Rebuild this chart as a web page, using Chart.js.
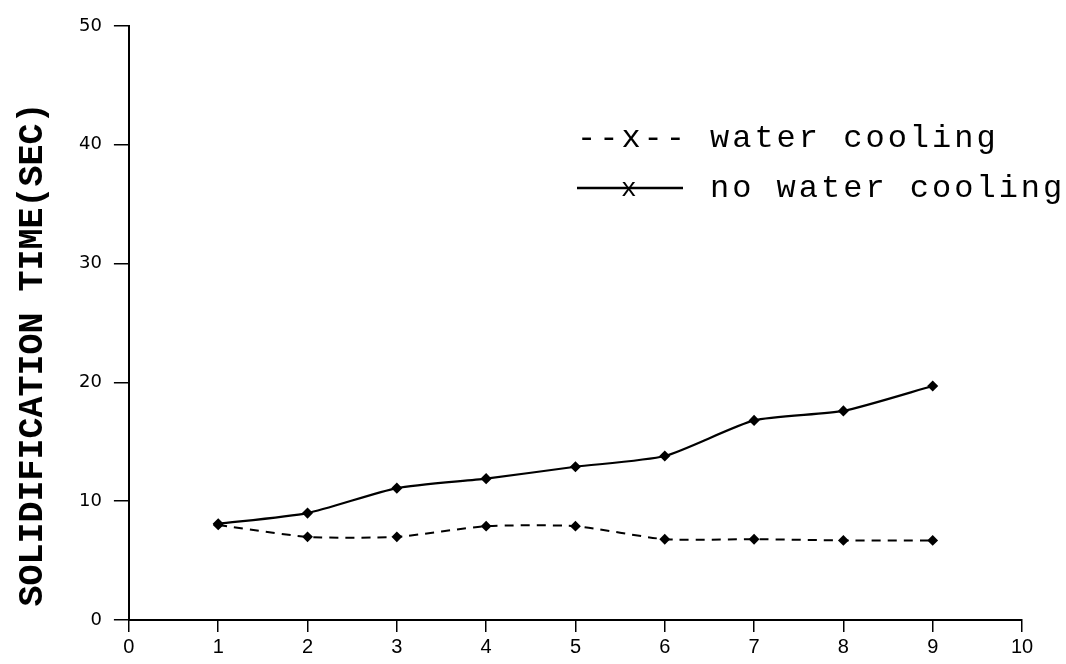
<!DOCTYPE html>
<html>
<head>
<meta charset="utf-8">
<script src="https://cdn.jsdelivr.net/npm/chart.js@4.4.1/dist/chart.umd.min.js"></script>
<style>
  html, body { margin: 0; padding: 0; background: #fff; }
  #wrap { width: 1066px; height: 664px; }
</style>
</head>
<body>
<div id="wrap"><canvas id="chart" width="1066" height="664"></canvas></div>
<script>
// values
const runs = [1, 2, 3, 4, 5, 6, 7, 8, 9];
const waterCooling = [8, 7, 7, 7.9, 7.9, 6.8, 6.8, 6.7, 6.7];
const noWaterCooling = [8.1, 9, 11.1, 11.9, 12.9, 13.8, 16.8, 17.6, 19.7];
const xTicks = [0, 1, 2, 3, 4, 5, 6, 7, 8, 9, 10];
const yTicks = [0, 10, 20, 30, 40, 50];
const seriesLabels = ['water cooling', 'no water cooling'];

const toPoints = vals => runs.map((r, i) => ({ x: r, y: vals[i] }));

// typewriter style legend drawn inside the plot
const typedLegend = {
  id: 'typedLegend',
  afterDraw(chart) {
    const ctx = chart.ctx;
    ctx.save();
    ctx.fillStyle = '#000';
    ctx.strokeStyle = '#000';
    ctx.font = '32px "Liberation Mono"';
    ctx.letterSpacing = '3px';
    ctx.textBaseline = 'alphabetic';
    const x0 = 577, y1 = 147, y2 = 197;
    ctx.fillText('--x--', x0, y1);
    ctx.fillText(chart.data.datasets[0].label, 710, y1);
    ctx.lineWidth = 2.5;
    ctx.beginPath();
    ctx.moveTo(x0, y2 - 9);
    ctx.lineTo(x0 + 106, y2 - 9);
    ctx.stroke();
    ctx.font = '26px "Liberation Mono"';
    ctx.fillText('x', 621, y2 - 1);
    ctx.font = '32px "Liberation Mono"';
    ctx.fillText(chart.data.datasets[1].label, 710, y2);
    ctx.restore();
  }
};

new Chart(document.getElementById('chart'), {
  type: 'line',
  data: {
    datasets: [
      {
        label: seriesLabels[0],
        data: toPoints(waterCooling),
        borderColor: '#000',
        backgroundColor: '#000',
        borderWidth: 2,
        borderDash: [9, 7],
        tension: 0.2,
        pointStyle: 'rectRot',
        pointRadius: 4
      },
      {
        label: seriesLabels[1],
        data: toPoints(noWaterCooling),
        borderColor: '#000',
        backgroundColor: '#000',
        borderWidth: 2.2,
        tension: 0.2,
        pointStyle: 'rectRot',
        pointRadius: 4
      }
    ]
  },
  options: {
    responsive: false,
    animation: false,
    layout: { padding: { left: 10, right: 44, top: 26, bottom: 2 } },
    plugins: {
      legend: { display: false },
      tooltip: { enabled: false }
    },
    scales: {
      x: {
        type: 'linear',
        min: 0,
        max: 10,
        afterBuildTicks: s => { s.ticks = xTicks.map(v => ({ value: v })); },
        ticks: {
          color: '#000',
          padding: 3,
          font: { family: 'Liberation Sans', size: 20 }
        },
        grid: { drawOnChartArea: false, drawTicks: true, tickLength: 12, color: '#000', lineWidth: 1.5 },
        border: { color: '#000', width: 2 }
      },
      y: {
        min: 0,
        max: 50,
        afterBuildTicks: s => { s.ticks = yTicks.map(v => ({ value: v })); },
        ticks: {
          color: '#000',
          padding: 12,
          font: { family: 'DejaVu Sans', size: 18 }
        },
        grid: { drawOnChartArea: false, drawTicks: true, tickLength: 15, color: '#000', lineWidth: 1.5 },
        border: { color: '#000', width: 2 },
        title: {
          display: true,
          // trailing spaces push the centred title down, as in the original
          text: 'SOLIDIFICATION TIME(SEC)   ',
          color: '#000',
          font: { family: 'Liberation Mono', size: 35, weight: 'bold' },
          padding: { top: 2, bottom: 13 }
        }
      }
    }
  },
  plugins: [typedLegend]
});
</script>
</body>
</html>
